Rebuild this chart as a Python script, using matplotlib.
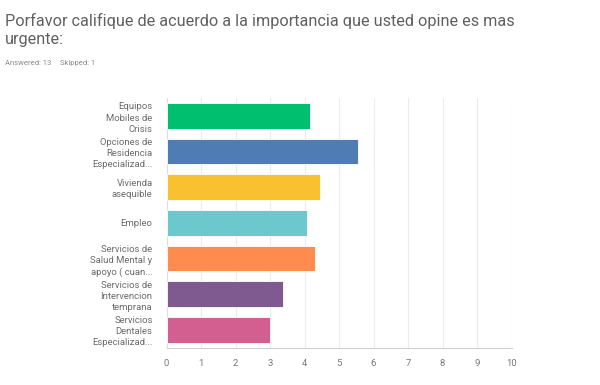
import matplotlib.pyplot as plt

plt.rcParams['font.family'] = ['Roboto', 'DejaVu Sans']

categories = ['Equipos\nMobiles de\nCrisis',
              'Opciones de\nResidencia\nEspecializad...',
              'Vivienda\nasequible',
              'Empleo',
              'Servicios de\nSalud Mental y\napoyo ( cuan...',
              'Servicios de\nIntervencion\ntemprana',
              'Servicios\nDentales\nEspecializad...']
values = [4.17, 5.54, 4.46, 4.08, 4.31, 3.38, 3.00]
colors = ['#00bf6f', '#507cb6', '#f9c12f', '#6bc8cd', '#ff8b4f', '#7f5a90', '#d25f90']
xticks = list(range(0, 11))

fig = plt.figure(figsize=(6, 3.85), dpi=100)
ax = fig.add_axes([0.2775, 0.097, 0.575, 0.648])

y = list(range(len(categories)))
ax.barh(y, values, height=0.72, color=colors, edgecolor='#ffffff', linewidth=0.6, zorder=3)
ax.set_ylim(len(categories) - 0.5, -0.5)
ax.set_xlim(0, 10)
ax.set_xticks(xticks)
ax.set_yticks(y)
ax.set_yticklabels(categories, fontsize=6.8, color='#6b6b6b', linespacing=1.3)
ax.tick_params(axis='x', labelsize=6.8, colors='#777777', length=0, pad=8)
ax.tick_params(axis='y', length=0, pad=10)
ax.grid(axis='x', color='#ebebeb', linewidth=0.8, zorder=0)
for side in ['top', 'right']:
    ax.spines[side].set_visible(False)
ax.spines['left'].set_color('#dddddd')
ax.spines['bottom'].set_color('#d0d0d0')

fig.text(0.008, 0.922, 'Porfavor califique de acuerdo a la importancia que usted opine es mas\nurgente:',
         fontsize=11.7, color='#606060', va='center', linespacing=1.2)
fig.text(0.008, 0.836, 'Answered: 13', fontsize=5.5, color='#8a8a8a', va='center')
fig.text(0.1, 0.836, 'Skipped: 1', fontsize=5.5, color='#8a8a8a', va='center')

fig.savefig('out.png', dpi=100)
